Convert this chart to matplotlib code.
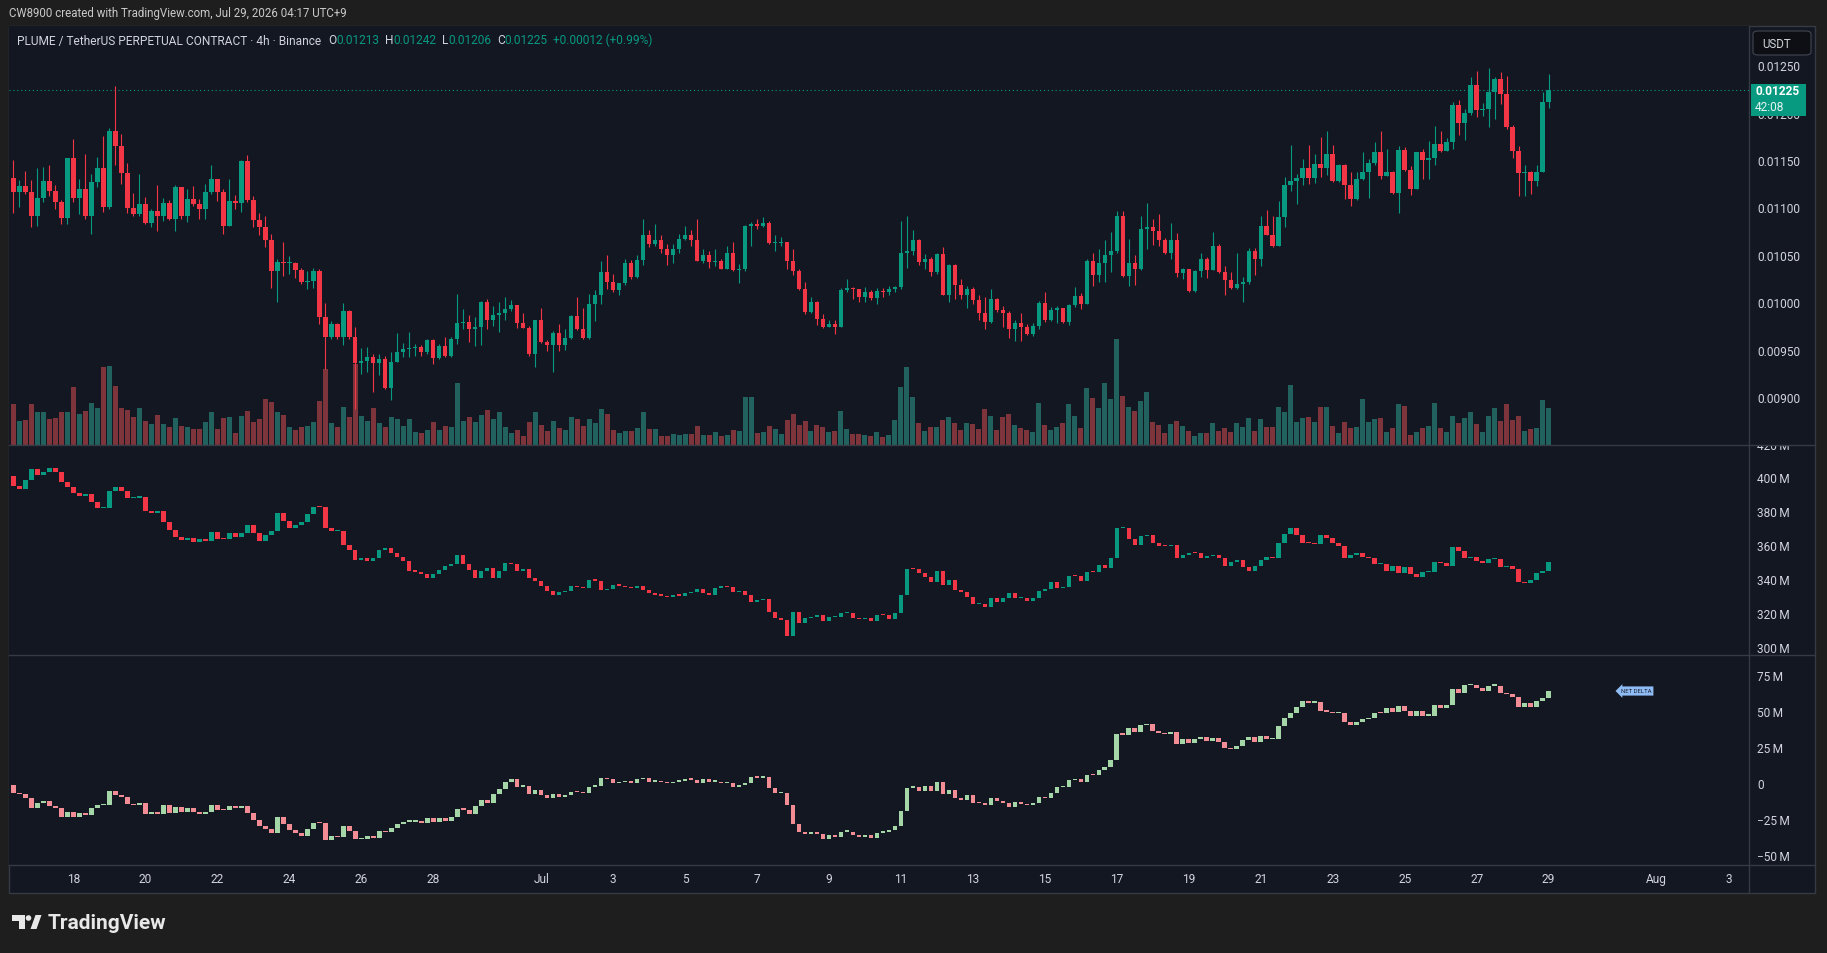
import numpy as np
import pandas as pd
import matplotlib.pyplot as plt
from matplotlib.patches import Rectangle, Polygon, Ellipse, FancyBboxPatch
from matplotlib.lines import Line2D
from matplotlib.transforms import blended_transform_factory, Bbox, TransformedBbox

plt.rcParams['font.family'] = ['Roboto', 'DejaVu Sans']

W, H = 1827, 954

# 4h candles, prices in units of 0.00001 USDT
first_open_e5 = 1133
close_e5 = [1118, 1124, 1118, 1092, 1112, 1129, 1119, 1107, 1090, 1154,
            1112, 1121, 1093, 1128, 1143, 1102, 1182, 1166, 1138, 1101,
            1095, 1105, 1085, 1098, 1092, 1106, 1089, 1123, 1092, 1110,
            1105, 1100, 1118, 1131, 1118, 1082, 1108, 1106, 1150, 1109,
            1088, 1081, 1067, 1034, 1044, 1043, 1043, 1036, 1023, 1024,
            1035, 986, 965, 979, 965, 992, 965, 938, 940, 944,
            938, 942, 911, 939, 949, 952, 953, 954, 949, 962,
            943, 955, 945, 963, 980, 981, 973, 976, 1002, 983,
            988, 990, 994, 999, 980, 974, 947, 983, 960, 956,
            969, 956, 964, 987, 973, 964, 1000, 1009, 1033, 1023,
            1014, 1022, 1043, 1028, 1046, 1073, 1063, 1067, 1058, 1051,
            1058, 1068, 1073, 1067, 1045, 1051, 1044, 1045, 1037, 1054,
            1036, 1037, 1082, 1084, 1082, 1085, 1064, 1064, 1065, 1045,
            1035, 1016, 991, 1002, 984, 976, 979, 976, 1015, 1017,
            1016, 1007, 1012, 1006, 1013, 1012, 1016, 1018, 1054, 1056,
            1067, 1044, 1047, 1033, 1052, 1009, 1041, 1020, 1009, 1016,
            1004, 990, 981, 1005, 993, 990, 973, 980, 976, 968,
            977, 1001, 983, 993, 996, 981, 999, 1008, 1000, 1045,
            1030, 1043, 1051, 1056, 1093, 1029, 1043, 1037, 1079, 1081,
            1077, 1067, 1053, 1067, 1032, 1037, 1013, 1035, 1047, 1036,
            1061, 1033, 1025, 1017, 1021, 1023, 1056, 1047, 1082, 1072,
            1061, 1091, 1125, 1129, 1133, 1143, 1133, 1147, 1143, 1158,
            1129, 1146, 1125, 1110, 1131, 1139, 1148, 1160, 1135, 1139,
            1117, 1162, 1141, 1121, 1160, 1152, 1154, 1168, 1161, 1170,
            1210, 1191, 1201, 1231, 1204, 1205, 1223, 1237, 1221, 1186,
            1161, 1138, 1139, 1129, 1139, 1213, 1225]
high_e5 = [1152, 1130, 1140, 1130, 1143, 1144, 1146, 1125, 1109, 1154,
           1174, 1132, 1158, 1137, 1155, 1177, 1185, 1230, 1179, 1148,
           1117, 1137, 1113, 1100, 1125, 1112, 1109, 1125, 1123, 1121,
           1124, 1110, 1126, 1146, 1132, 1121, 1131, 1115, 1152, 1157,
           1114, 1096, 1093, 1074, 1047, 1065, 1050, 1044, 1038, 1034,
           1038, 1037, 1001, 982, 980, 1001, 993, 975, 953, 954,
           947, 947, 945, 949, 969, 959, 970, 958, 956, 963,
           963, 958, 965, 965, 1010, 994, 988, 986, 1003, 1005,
           998, 1002, 1007, 1004, 999, 990, 977, 983, 995, 962,
           971, 979, 973, 988, 1007, 996, 1010, 1015, 1045, 1051,
           1031, 1022, 1047, 1046, 1051, 1089, 1078, 1084, 1072, 1063,
           1063, 1074, 1082, 1078, 1089, 1058, 1056, 1058, 1047, 1061,
           1065, 1042, 1083, 1086, 1089, 1091, 1087, 1072, 1070, 1065,
           1058, 1037, 1023, 1007, 1003, 989, 983, 983, 1017, 1026,
           1018, 1016, 1018, 1015, 1017, 1017, 1019, 1019, 1087, 1092,
           1078, 1068, 1052, 1049, 1054, 1060, 1042, 1042, 1026, 1019,
           1018, 1009, 1007, 1016, 1006, 998, 992, 983, 990, 979,
           980, 1003, 1012, 997, 998, 996, 1000, 1018, 1011, 1047,
           1053, 1058, 1067, 1076, 1098, 1098, 1068, 1051, 1092, 1106,
           1089, 1095, 1069, 1085, 1075, 1038, 1036, 1036, 1053, 1049,
           1076, 1063, 1040, 1033, 1054, 1028, 1059, 1059, 1092, 1099,
           1093, 1108, 1134, 1167, 1137, 1153, 1167, 1158, 1176, 1182,
           1167, 1147, 1147, 1139, 1139, 1160, 1153, 1171, 1182, 1163,
           1140, 1166, 1165, 1145, 1160, 1163, 1172, 1187, 1182, 1175,
           1213, 1215, 1205, 1239, 1245, 1212, 1249, 1239, 1244, 1240,
           1188, 1166, 1146, 1140, 1146, 1223, 1242]
low_e5 = [1096, 1102, 1116, 1081, 1082, 1107, 1114, 1100, 1084, 1084,
          1107, 1095, 1089, 1074, 1123, 1097, 1100, 1146, 1126, 1096,
          1093, 1093, 1084, 1081, 1077, 1087, 1088, 1077, 1089, 1086,
          1103, 1089, 1089, 1116, 1108, 1074, 1082, 1100, 1097, 1107,
          1081, 1072, 1060, 1017, 1002, 1029, 1031, 1027, 1021, 1016,
          1017, 979, 931, 963, 963, 956, 963, 889, 926, 928,
          907, 925, 910, 899, 945, 944, 944, 945, 945, 947,
          937, 942, 944, 944, 958, 973, 960, 955, 957, 973,
          977, 970, 983, 992, 974, 974, 945, 933, 959, 950,
          928, 950, 951, 963, 972, 963, 963, 982, 1000, 1016,
          1012, 1009, 1020, 1026, 1027, 1041, 1060, 1061, 1054, 1041,
          1043, 1054, 1067, 1061, 1045, 1043, 1038, 1040, 1037, 1037,
          1035, 1022, 1035, 1061, 1079, 1081, 1063, 1056, 1061, 1037,
          1030, 1014, 989, 990, 978, 974, 976, 968, 977, 1012,
          1005, 1002, 1002, 1004, 1000, 1007, 1009, 1012, 1016, 1038,
          1051, 1041, 1037, 1029, 1031, 1009, 1002, 1005, 1005, 996,
          1000, 983, 973, 980, 991, 976, 964, 961, 961, 967,
          966, 973, 981, 982, 980, 980, 978, 997, 994, 1000,
          1019, 1023, 1023, 1033, 1054, 1028, 1019, 1020, 1036, 1058,
          1062, 1061, 1052, 1047, 1028, 1026, 1012, 1012, 1028, 1027,
          1036, 1032, 1009, 1016, 1016, 1002, 1021, 1030, 1040, 1072,
          1060, 1062, 1081, 1119, 1105, 1125, 1126, 1127, 1134, 1136,
          1128, 1128, 1110, 1103, 1109, 1130, 1112, 1146, 1131, 1135,
          1116, 1096, 1140, 1115, 1121, 1131, 1131, 1146, 1160, 1161,
          1163, 1178, 1173, 1199, 1197, 1198, 1186, 1195, 1211, 1184,
          1154, 1114, 1114, 1116, 1124, 1139, 1206]
volume_m = [41, 24, 25, 41, 33, 33, 26, 27, 33, 33,
            58, 31, 34, 42, 37, 78, 79, 59, 37, 35,
            28, 37, 24, 21, 30, 21, 18, 27, 19, 18,
            16, 16, 23, 33, 16, 27, 28, 12, 29, 34,
            23, 26, 46, 43, 33, 30, 18, 15, 18, 19,
            23, 44, 76, 22, 18, 38, 28, 81, 29, 24,
            37, 22, 18, 28, 26, 19, 26, 13, 12, 15,
            23, 15, 19, 18, 62, 24, 28, 23, 30, 35,
            26, 33, 18, 12, 15, 9, 23, 33, 20, 14,
            24, 17, 15, 28, 26, 19, 26, 22, 36, 31,
            15, 12, 14, 14, 17, 33, 16, 16, 9, 9,
            11, 10, 11, 11, 19, 10, 10, 13, 9, 10,
            15, 14, 48, 48, 12, 13, 19, 16, 11, 25,
            31, 20, 24, 14, 20, 18, 13, 14, 34, 16,
            11, 11, 10, 9, 13, 8, 10, 25, 58, 78,
            48, 22, 14, 18, 18, 25, 28, 22, 15, 22,
            21, 16, 36, 29, 15, 28, 31, 20, 17, 15,
            13, 42, 20, 15, 18, 22, 41, 29, 17, 57,
            47, 37, 62, 46, 106, 49, 38, 34, 44, 53,
            23, 20, 12, 21, 24, 19, 14, 9, 12, 12,
            22, 14, 17, 13, 22, 18, 27, 14, 26, 18,
            18, 38, 33, 60, 23, 27, 28, 23, 38, 38,
            19, 12, 23, 17, 18, 46, 23, 26, 27, 13,
            17, 41, 39, 10, 13, 17, 19, 42, 17, 13,
            29, 22, 27, 33, 21, 13, 29, 37, 24, 41,
            25, 29, 14, 16, 17, 45, 37]

# cumulative volume delta panes (millions)
cvd_open = 401.8
cvd_close = [395.8, 394.1, 399.4, 405.9, 402.4, 403.9, 406.3, 404.3, 398.4, 395.5,
             391.9, 390.1, 390.9, 386.6, 383.0, 383.0, 392.9, 395.5, 393.1, 388.5,
             389.0, 389.5, 381.3, 379.7, 381.1, 374.7, 369.8, 365.9, 363.9, 365.3,
             362.9, 364.5, 363.5, 368.4, 364.5, 364.3, 367.8, 365.9, 367.8, 372.8,
             367.8, 363.3, 366.9, 369.2, 379.7, 375.3, 370.8, 372.8, 374.3, 379.1,
             383.6, 383.4, 371.2, 369.4, 369.4, 361.0, 358.0, 352.1, 353.4, 351.5,
             353.1, 358.0, 359.0, 356.0, 353.6, 351.7, 345.8, 345.2, 344.0, 341.2,
             344.0, 346.2, 348.3, 349.9, 355.0, 349.5, 346.2, 341.2, 345.6, 347.5,
             341.6, 345.6, 350.1, 349.9, 345.6, 346.5, 341.6, 339.9, 336.9, 333.9,
             331.4, 333.3, 333.9, 336.9, 336.3, 335.3, 340.2, 339.9, 334.3, 334.7,
             337.3, 336.9, 335.9, 335.3, 336.9, 334.3, 332.3, 331.4, 331.0, 330.0,
             331.4, 331.0, 332.3, 333.3, 334.9, 332.3, 331.4, 335.7, 336.9, 336.3,
             333.3, 333.5, 331.4, 327.4, 328.4, 329.0, 321.5, 318.0, 316.6, 307.3,
             321.5, 315.0, 317.6, 318.1, 319.5, 316.2, 318.5, 318.5, 320.5, 320.5,
             318.0, 317.0, 317.6, 316.2, 319.5, 319.3, 317.2, 320.5, 331.4, 346.7,
             346.5, 344.6, 342.2, 339.3, 345.6, 337.3, 340.2, 334.3, 333.3, 330.4,
             326.0, 326.0, 324.5, 329.8, 327.4, 329.8, 332.3, 329.4, 329.6, 328.0,
             329.8, 333.7, 334.9, 339.2, 335.3, 336.1, 342.6, 342.4, 339.9, 345.2,
             345.0, 349.1, 347.1, 353.1, 370.8, 370.8, 364.5, 361.0, 366.3, 366.9,
             362.3, 360.5, 360.3, 361.0, 353.1, 355.0, 356.4, 356.0, 353.1, 354.6,
             354.8, 353.4, 348.7, 350.7, 352.1, 348.1, 345.8, 348.5, 352.1, 353.6,
             353.4, 361.9, 367.5, 371.2, 366.9, 362.3, 362.1, 361.7, 366.9, 365.3,
             362.3, 360.5, 353.1, 355.0, 356.4, 354.0, 353.1, 349.5, 349.9, 345.8,
             348.5, 344.2, 347.7, 343.8, 341.8, 344.8, 344.8, 351.1, 350.1, 348.7,
             360.0, 357.6, 353.1, 353.8, 351.7, 350.1, 352.5, 352.7, 347.7, 348.5,
             346.5, 339.2, 338.3, 340.2, 344.2, 345.6, 351.1]
delta_open = -0.1
delta_close = [-5.9, -6.4, -9.4, -15.9, -12.9, -11.3, -14.5, -16.4, -22.7, -18.7,
               -22.7, -19.9, -21.1, -16.4, -14.1, -14.1, -4.1, -7.1, -8.7, -13.6,
               -14.1, -12.9, -20.6, -18.7, -20.1, -14.1, -19.9, -15.2, -18.7, -16.4,
               -19.2, -20.6, -18.7, -14.1, -17.5, -17.8, -14.8, -16.4, -14.8, -19.9,
               -24.5, -28.5, -30.8, -33.8, -22.2, -27.5, -31.5, -33.8, -35.4, -30.8,
               -26.4, -26.8, -38.4, -35.4, -36.6, -28.7, -32.0, -38.0, -38.0, -35.7,
               -37.3, -32.2, -33.1, -30.3, -27.5, -25.7, -25.7, -25.2, -26.8, -23.4,
               -25.7, -22.9, -25.2, -22.2, -16.9, -17.3, -20.6, -14.8, -10.6, -12.4,
               -6.6, -2.9, 1.7, 3.8, -1.3, -1.1, -6.4, -3.6, -7.1, -9.4,
               -6.4, -8.7, -7.1, -4.8, -5.0, -5.7, -1.3, -0.8, 4.5, 4.0,
               1.0, 1.9, 2.4, 1.5, 3.8, 5.0, 2.2, 2.9, 1.7, 1.0,
               2.2, 2.6, 4.0, 3.6, 1.0, 4.0, 2.2, 2.2, 1.0, 1.2,
               -1.3, -0.4, 1.5, 5.7, 5.0, 5.4, -2.5, -5.9, -5.7, -14.1,
               -27.5, -33.1, -34.5, -32.6, -34.5, -38.0, -35.0, -36.1, -32.6, -32.6,
               -35.0, -36.1, -35.0, -36.8, -33.3, -32.6, -31.5, -28.5, -18.0, -2.0,
               -1.5, -4.1, -0.6, -4.1, 2.2, -6.4, -3.6, -9.0, -10.6, -7.1,
               -12.4, -12.9, -14.1, -9.4, -11.3, -12.9, -15.7, -11.8, -13.6, -14.1,
               -12.4, -8.3, -9.4, -5.5, -1.8, -1.8, 3.3, 4.0, 1.7, 6.8,
               6.6, 10.3, 12.6, 17.3, 35.1, 34.9, 39.8, 36.5, 41.6, 42.1,
               37.7, 35.8, 35.1, 37.0, 28.4, 31.7, 28.9, 31.7, 33.5, 30.5,
               32.8, 30.0, 25.4, 24.7, 27.2, 31.2, 33.5, 30.0, 34.2, 31.9,
               32.1, 41.2, 46.7, 49.8, 54.4, 58.4, 57.2, 57.9, 51.6, 50.9,
               49.8, 50.2, 43.5, 41.6, 43.9, 45.6, 46.7, 50.2, 50.0, 53.7,
               50.9, 54.9, 51.6, 48.1, 51.6, 48.1, 48.1, 55.6, 53.7, 55.6,
               66.7, 64.1, 69.5, 69.5, 67.6, 65.5, 69.0, 69.0, 64.1, 63.2,
               61.4, 54.4, 57.2, 54.4, 58.6, 60.7, 65.3]

price_ticks = [0.0125, 0.0120, 0.0115, 0.0110, 0.0105, 0.0100, 0.0095, 0.0090]
cvd_ticks = [420, 400, 380, 360, 340, 320, 300]
delta_ticks = [75, 50, 25, 0, -25, -50]
date_ticks = ['2026-06-18', '2026-06-20', '2026-06-22', '2026-06-24', '2026-06-26',
              '2026-06-28', '2026-07-01', '2026-07-03', '2026-07-05', '2026-07-07',
              '2026-07-09', '2026-07-11', '2026-07-13', '2026-07-15', '2026-07-17',
              '2026-07-19', '2026-07-21', '2026-07-23', '2026-07-25', '2026-07-27',
              '2026-07-29', '2026-08-01', '2026-08-03']
date_labels = ['18', '20', '22', '24', '26', '28', 'Jul', '3', '5', '7', '9', '11',
               '13', '15', '17', '19', '21', '23', '25', '27', '29', 'Aug', '3']

BG = '#131722'
OUT = '#1e1e1e'
LINE = '#363a45'
TXT = '#d1d4dc'
UP, DN = '#089981', '#f23645'
VUP, VDN = '#22625e', '#7d343a'
DUP, DDN = '#a5d6a7', '#f28d95'

origin = pd.Timestamp('2026-07-01')
times = pd.date_range('2026-06-16 08:00', periods=len(close_e5), freq='4h')
x = np.asarray((times - origin) / pd.Timedelta(days=1))
tick_x = np.asarray((pd.to_datetime(date_ticks) - origin) / pd.Timedelta(days=1))

c = np.array(close_e5) / 1e5
o = np.concatenate([[first_open_e5], close_e5[:-1]]) / 1e5
h = np.maximum(np.array(high_e5) / 1e5, np.maximum(o, c))
l = np.minimum(np.array(low_e5) / 1e5, np.minimum(o, c))
cvd_c = np.array(cvd_close)
cvd_o = np.concatenate([[cvd_open], cvd_close[:-1]])
dl_c = np.array(delta_close)
dl_o = np.concatenate([[delta_open], delta_close[:-1]])


def fx(px):
    return px / W


def fy(py):
    return 1 - py / H


def candles(ax, o, c, up, dn, w, minh, hi=None, lo=None):
    col = np.where(c >= o, up, dn)
    if hi is not None:
        ax.vlines(x, lo, hi, colors=col, lw=0.8, zorder=2)
    ax.bar(x, np.maximum(np.abs(c - o), minh), w, np.minimum(o, c),
           color=col, lw=0, zorder=3)


def scale_labels(ax, ticks, labels):
    tr = blended_transform_factory(ax.transAxes, ax.transData)
    clip = TransformedBbox(Bbox([[1.0, 0.0], [1.05, 1.0]]), ax.transAxes)
    for t, s in zip(ticks, labels):
        tx = ax.text(1.0046, t, s, transform=tr, ha='left', va='center',
                     fontsize=8.6, color=TXT, clip_on=True)
        tx.set_clip_box(clip)


fig = plt.figure(figsize=(W / 100, H / 100), dpi=100, facecolor=OUT)
fig.add_artist(Rectangle((fx(9), fy(894)), (1815 - 9) / W, (894 - 27) / H,
                         transform=fig.transFigure, fc=BG, ec=LINE, lw=1, zorder=-5))

ax_w = (1749 - 9) / W
axv = fig.add_axes([fx(9), fy(446), ax_w, 419 / H])
ax1 = axv.twinx()
ax2 = fig.add_axes([fx(9), fy(656), ax_w, 210 / H])
ax3 = fig.add_axes([fx(9), fy(866), ax_w, 210 / H])
ax1.set_zorder(2)
axv.set_zorder(1)
ax1.patch.set_visible(False)

for ax in (axv, ax1, ax2, ax3):
    ax.set_facecolor(BG)
    for s in ax.spines.values():
        s.set_visible(False)
    ax.set_xlim(-14.79, 33.57)
    ax.set_xticks([])
    ax.set_yticks([])

# volume
axv.bar(x, volume_m, 0.139, color=np.where(c >= o, VUP, VDN), lw=0)
axv.set_ylim(0, 419)

# price
ax1.set_ylim(0.008511, 0.012928)
candles(ax1, o, c, UP, DN, 0.125, 1.0e-5, h, l)
ax1.axhline(c[-1], color=UP, lw=0.8, ls=(0, (1, 2.5)), zorder=1)
scale_labels(ax1, price_ticks, ['%.5f' % t for t in price_ticks])

# cvd
ax2.set_ylim(295.9, 420.1)
candles(ax2, cvd_o, cvd_c, UP, DN, 0.125, 0.7)
scale_labels(ax2, cvd_ticks, ['%d\u2009M' % t for t in cvd_ticks])

# net delta
ax3.set_ylim(-55.9, 90.3)
candles(ax3, dl_o, dl_c, DUP, DDN, 0.13, 0.8)
scale_labels(ax3, delta_ticks,
             ['0' if t == 0 else ('%d\u2009M' % t).replace('-', '\u2212') for t in delta_ticks])

# separators
for py in (446, 656, 866):
    fig.add_artist(Line2D([fx(9), fx(1815)], [fy(py), fy(py)], color=LINE, lw=1))
fig.add_artist(Line2D([fx(1749), fx(1749)], [fy(27), fy(894)], color=LINE, lw=1))

# time axis
tt = blended_transform_factory(ax3.transData, fig.transFigure)
for tx_, lab in zip(tick_x, date_labels):
    fig.text(tx_, fy(880), lab, transform=tt, ha='center', va='center',
             fontsize=8.6, color=TXT)

# current price tag
fig.canvas.draw()
yd = ax1.transData.transform((x[-1], c[-1]))[1]
fig.add_artist(Rectangle((fx(1751), (yd - 26) / H), 55 / W, 32 / H,
                         transform=fig.transFigure, fc=UP, ec='none', zorder=6))
fig.text(fx(1755), yd / H, '%.5f' % c[-1], fontsize=8.6, color='white',
         fontweight='bold', va='center', zorder=7)
fig.text(fx(1755), (yd - 16) / H, '42:08', fontsize=8.6, color='#e6f4f1',
         va='center', zorder=7)

# USDT box
fig.add_artist(FancyBboxPatch((fx(1753), fy(56)), 58 / W, 24 / H,
                              boxstyle='round,pad=0,rounding_size=0.003',
                              transform=fig.transFigure, fc='#0d0f14', ec='#434651', lw=0.8))
fig.text(fx(1762), fy(44), 'USDT', fontsize=8.3, color=TXT, va='center')

# NET DELTA tag
fig.text(fx(1636), fy(692), 'NET DELTA', fontsize=4.3, color='#1a2030', ha='center',
         va='center', bbox=dict(boxstyle='larrow,pad=0.35', fc='#8fbcf4', ec='none'))

# header
fig.text(fx(9), fy(13), 'CW8900 created with TradingView.com, Jul 29, 2026 04:17 UTC+9',
         fontsize=8.3, color='#c9c9c9', va='center')
pieces = [('PLUME / TetherUS PERPETUAL CONTRACT \u00b7 4h \u00b7 Binance', TXT, 0),
          ('O', TXT, 5), ('%.5f' % o[-1], UP, 0),
          ('H', TXT, 4), ('%.5f' % h[-1], UP, 0),
          ('L', TXT, 4), ('%.5f' % l[-1], UP, 0),
          ('C', TXT, 4), ('%.5f' % c[-1], UP, 0),
          ('%+.5f (%+.2f%%)' % (c[-1] - o[-1], (c[-1] / o[-1] - 1) * 100), UP, 4)]
prev = fig.text(fx(17), fy(41), pieces[0][0], fontsize=8.55, color=pieces[0][1], va='center')
for s, col, gap in pieces[1:]:
    prev = ax1.annotate(s, xy=(1, 0), xycoords=prev, xytext=(gap, 0),
                        textcoords='offset points', fontsize=8.55, color=col,
                        va='bottom', annotation_clip=False)

# TradingView logo
logo = '#e8e8e8'
fig.add_artist(Polygon([(fx(12), fy(916)), (fx(24.5), fy(916)), (fx(24.5), fy(930)),
                        (fx(19), fy(930)), (fx(19), fy(922)), (fx(12), fy(922))],
                       closed=True, transform=fig.transFigure, fc=logo, ec='none'))
fig.add_artist(Ellipse((fx(28.5), fy(919)), 5.6 / W, 5.6 / H,
                       transform=fig.transFigure, fc=logo, ec='none'))
fig.add_artist(Polygon([(fx(30.5), fy(930)), (fx(35.5), fy(916)), (fx(41.5), fy(916)),
                        (fx(36.5), fy(930))],
                       closed=True, transform=fig.transFigure, fc=logo, ec='none'))
fig.text(fx(48), fy(924), 'TradingView', fontsize=15, fontweight='bold',
         color=logo, va='center')

fig.savefig('out.png', dpi=100, facecolor=OUT)
